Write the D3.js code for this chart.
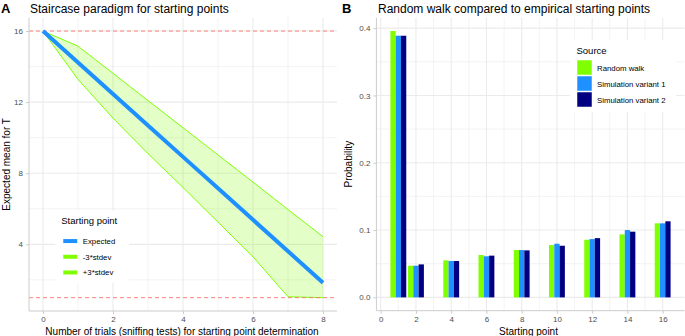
<!DOCTYPE html>
<html>
<head>
<meta charset="utf-8">
<script src="https://cdn.jsdelivr.net/npm/d3@7"></script>
<style>
  body { margin: 0; background: #fff; }
  svg { font-family: "Liberation Sans", Arial, sans-serif; }
</style>
</head>
<body>
<svg id="chart" width="685" height="336"></svg>
<script>
// ---- panel A data
const trials = [0, 1, 2, 3, 4, 5, 6, 7, 8];
const expectedMean = [16, 14.23, 12.46, 10.69, 8.92, 7.15, 5.38, 3.61, 1.84];
const upperSd = [16, 15.15, 13.62, 12.09, 10.56, 9.03, 7.5, 5.96, 4.43];
const lowerSd = [16, 13.28, 11.1, 9.1, 7.2, 5.25, 3.3, 1.05, 1.0];
const limitLines = [16, 1];
const legendA = ["Expected", "-3*stdev", "+3*stdev"];

// ---- panel B data
const startPoints = [1, 2, 4, 6, 8, 10, 12, 14, 16];
const sources = ["Random walk", "Simulation variant 1", "Simulation variant 2"];
const randomWalk = [0.3957, 0.047, 0.055, 0.063, 0.0703, 0.0777, 0.0856, 0.0936, 0.110];
const simVariant1 = [0.3887, 0.047, 0.054, 0.061, 0.0703, 0.0797, 0.0866, 0.100, 0.110];
const simVariant2 = [0.3887, 0.049, 0.054, 0.062, 0.0698, 0.0767, 0.088, 0.0976, 0.113];
const sourceColors = ["#7FFF00", "#1E90FF", "#000080"];

const svg = d3.select("#chart");
const gridCol = "#ebebeb";
const tickCol = "#4d4d4d";

function drawGrid(g, x, y, xMajor, xMinor, yMajor, yMinor, w, h) {
	g.selectAll(".xminor").data(xMinor).join("line")
		.attr("x1", d => x(d)).attr("x2", d => x(d)).attr("y1", 0).attr("y2", h)
		.attr("stroke", gridCol).attr("stroke-width", 0.6);
	g.selectAll(".yminor").data(yMinor).join("line")
		.attr("y1", d => y(d)).attr("y2", d => y(d)).attr("x1", 0).attr("x2", w)
		.attr("stroke", gridCol).attr("stroke-width", 0.6);
	g.selectAll(".xmajor").data(xMajor).join("line")
		.attr("x1", d => x(d)).attr("x2", d => x(d)).attr("y1", 0).attr("y2", h)
		.attr("stroke", gridCol).attr("stroke-width", 1.1);
	g.selectAll(".ymajor").data(yMajor).join("line")
		.attr("y1", d => y(d)).attr("y2", d => y(d)).attr("x1", 0).attr("x2", w)
		.attr("stroke", gridCol).attr("stroke-width", 1.1);
}

function drawAxes(g, x, y, xTicks, yTicks, yFmt, w, h) {
	const xa = g.append("g").attr("transform", `translate(0,${h})`)
		.call(d3.axisBottom(x).tickValues(xTicks).tickSize(3).tickPadding(2.5).tickSizeOuter(0));
	const ya = g.append("g")
		.call(d3.axisLeft(y).tickValues(yTicks).tickFormat(yFmt).tickSize(3).tickPadding(3).tickSizeOuter(0));
	[xa, ya].forEach(a => {
		a.select(".domain").attr("stroke", "#cccccc");
		a.selectAll(".tick line").attr("stroke", "#cccccc");
		a.selectAll(".tick text").attr("fill", tickCol).attr("font-size", 8)
			.attr("font-family", "Liberation Sans, Arial, sans-serif");
	});
	ya.select(".domain").attr("d", `M0,0V${h}`);
	xa.select(".domain").attr("d", `M0,0H${w}`);
}

// ================= Panel A
const A = { left: 29, top: 17.7, w: 308, h: 293.3 };
const gA = svg.append("g").attr("transform", `translate(${A.left},${A.top})`);
const xA = d3.scaleLinear().domain([-0.4, 8.4]).range([0, A.w]);
const yA = d3.scaleLinear().domain([0.25, 16.75]).range([A.h, 0]);

drawGrid(gA, xA, yA, [0, 2, 4, 6, 8], [1, 3, 5, 7], [4, 8, 12, 16], [2, 6, 10, 14], A.w, A.h);

const bandPts = trials.map((t, i) => [t, upperSd[i]])
	.concat(trials.slice().reverse().map((t, j) => [t, lowerSd[trials.length - 1 - j]]));
gA.append("path")
	.attr("d", d3.line().x(d => xA(d[0])).y(d => yA(d[1]))(bandPts) + "Z")
	.attr("fill", "#7FFF00").attr("fill-opacity", 0.22).attr("stroke", "none");

const lineA = d3.line().x((d, i) => xA(trials[i])).y(d => yA(d));
gA.append("path").attr("d", lineA(upperSd)).attr("fill", "none")
	.attr("stroke", "#7FFF00").attr("stroke-width", 1);
gA.append("path").attr("d", lineA(lowerSd)).attr("fill", "none")
	.attr("stroke", "#7FFF00").attr("stroke-width", 1);

gA.selectAll(".limit").data(limitLines).join("line")
	.attr("x1", 0).attr("x2", A.w).attr("y1", d => yA(d)).attr("y2", d => yA(d))
	.attr("stroke", "#F8766D").attr("stroke-width", 0.9).attr("stroke-dasharray", "4,3");

gA.append("path").attr("d", lineA(expectedMean)).attr("fill", "none")
	.attr("stroke", "#1E90FF").attr("stroke-width", 4);

drawAxes(gA, xA, yA, [0, 2, 4, 6, 8], [4, 8, 12, 16], d3.format("d"), A.w, A.h);

// legend A
const legA = gA.append("g").attr("transform", `translate(${xA(0.35)},${yA(5.9)})`);
legA.append("rect").attr("x", 0).attr("y", 0).attr("width", 74).attr("height", 72).attr("fill", "#fff");
legA.append("text").attr("x", 6).attr("y", 13).attr("font-size", 9.5).attr("fill", "#000").text("Starting point");
const legColA = ["#1E90FF", "#7FFF00", "#7FFF00"];
legendA.forEach((lab, i) => {
	const yy = 30.5 + i * 15.7;
	legA.append("line").attr("x1", 8).attr("x2", 22).attr("y1", yy).attr("y2", yy)
		.attr("stroke", legColA[i]).attr("stroke-width", 4);
	legA.append("text").attr("x", 27.5).attr("y", yy + 2.8).attr("font-size", 7.8).attr("fill", "#000").text(lab);
});

// titles A
svg.append("text").attr("x", 1).attr("y", 13).attr("font-size", 13).attr("font-weight", "bold").text("A");
svg.append("text").attr("x", 30).attr("y", 13).attr("font-size", 12).text("Staircase paradigm for starting points");
svg.append("text").attr("x", A.left + A.w / 2 - 1).attr("y", 334.5).attr("text-anchor", "middle")
	.attr("font-size", 10).text("Number of trials (sniffing tests) for starting point determination");
svg.append("text").attr("transform", `translate(10,${A.top + A.h / 2}) rotate(-90)`)
	.attr("text-anchor", "middle").attr("font-size", 10).text("Expected mean for T");

// ================= Panel B
const B = { left: 376.4, top: 17.7, w: 308.2, h: 293 };
const gB = svg.append("g").attr("transform", `translate(${B.left},${B.top})`);
const xB = d3.scaleLinear().domain([-0.245, 17.245]).range([0, B.w]);
const yB = d3.scaleLinear().domain([-0.0198, 0.4155]).range([B.h, 0]);

drawGrid(gB, xB, yB, d3.range(0, 17, 2), d3.range(1, 17, 2), [0, 0.1, 0.2, 0.3, 0.4], [0.05, 0.15, 0.25, 0.35], B.w, B.h);

const seriesB = [randomWalk, simVariant1, simVariant2];
const barW = 0.3;
seriesB.forEach((vals, s) => {
	gB.selectAll(".bar" + s).data(vals).join("rect")
		.attr("x", (d, i) => xB(startPoints[i] - 0.45 + s * barW))
		.attr("width", xB(barW) - xB(0))
		.attr("y", d => yB(d))
		.attr("height", d => yB(0) - yB(d))
		.attr("fill", sourceColors[s]);
});

drawAxes(gB, xB, yB, d3.range(0, 17, 2), [0, 0.1, 0.2, 0.3, 0.4], d3.format(".1f"), B.w, B.h);

// legend B
const legB = svg.append("g").attr("transform", `translate(570,40)`);
legB.append("rect").attr("width", 106).attr("height", 72).attr("fill", "#fff");
legB.append("text").attr("x", 6.5).attr("y", 14).attr("font-size", 9.5).text("Source");
sources.forEach((lab, i) => {
	legB.append("rect").attr("x", 7).attr("y", 20 + i * 16).attr("width", 15).attr("height", 15)
		.attr("fill", sourceColors[i]).attr("stroke", "#fff").attr("stroke-width", 0.5);
	legB.append("text").attr("x", 27).attr("y", 30.5 + i * 16).attr("font-size", 7.8).text(lab);
});

// titles B
svg.append("text").attr("x", 342).attr("y", 13).attr("font-size", 13).attr("font-weight", "bold").text("B");
svg.append("text").attr("x", 378).attr("y", 13).attr("font-size", 12).text("Random walk compared to empirical starting points");
svg.append("text").attr("x", B.left + B.w / 2 - 2).attr("y", 334.5).attr("text-anchor", "middle")
	.attr("font-size", 10).text("Starting point");
svg.append("text").attr("transform", `translate(352,${B.top + B.h / 2}) rotate(-90)`)
	.attr("text-anchor", "middle").attr("font-size", 10).text("Probability");
</script>
</body>
</html>
